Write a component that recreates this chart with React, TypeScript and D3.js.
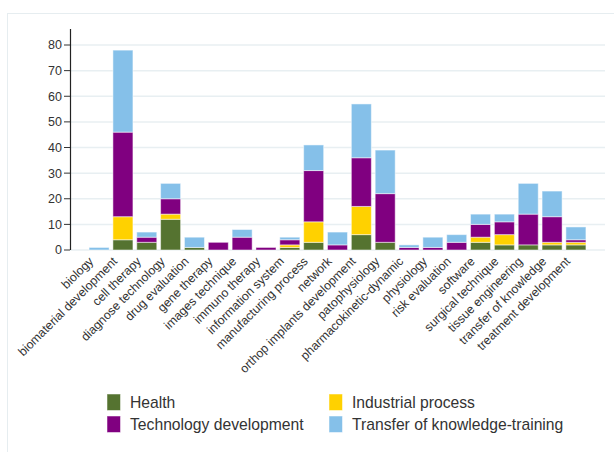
import React from "react";
import * as d3 from "d3";

const categories = [
  "biology", "biomaterial development", "cell therapy", "diagnose technology",
  "drug evaluation", "gene therapy", "images technique", "immuno therapy",
  "information system", "manufacturing process", "network",
  "orthop implants development", "patophysiology", "pharmacokinetic-dynamic",
  "physiology", "risk evaluation", "software", "surgical technique",
  "tissue engineering", "transfer of knowledge", "treatment development",
];
const health = [0, 4, 3, 12, 1, 0, 0, 0, 1, 3, 0, 6, 3, 0, 0, 0, 3, 2, 2, 2, 2];
const industrial = [0, 9, 0, 2, 0, 0, 0, 0, 1, 8, 0, 11, 0, 0, 0, 0, 2, 4, 0, 1, 1];
const technology = [0, 33, 2, 6, 0, 3, 5, 1, 2, 20, 2, 19, 19, 1, 1, 3, 5, 5, 12, 10, 1];
const transfer = [1, 32, 2, 6, 4, 0, 3, 0, 1, 10, 5, 21, 17, 1, 4, 3, 4, 3, 12, 10, 5];
const seriesNames = ["Health", "Industrial process", "Technology development", "Transfer of knowledge-training"];
const seriesColors = ["#557330", "#ffd100", "#800080", "#85c0e9"];
const yTicks = [0, 10, 20, 30, 40, 50, 60, 70, 80];

export default function App() {
  const W = 614, H = 452;
  const rows = categories.map((c, i) => ({
    cat: c, Health: health[i], "Industrial process": industrial[i],
    "Technology development": technology[i], "Transfer of knowledge-training": transfer[i],
  }));
  const stack = d3.stack<any>().keys(seriesNames)(rows);
  const x = d3.scaleBand().domain(categories).range([70, 605]).paddingInner(0.16).paddingOuter(0.8);
  const y = d3.scaleLinear().domain([0, 80]).range([250, 45]);
  const font = "'Liberation Sans', Arial, sans-serif";
  const legendPos = [
    { x: 107, y: 394 }, { x: 329, y: 394 }, { x: 107, y: 416 }, { x: 329, y: 416 },
  ];
  return (
    <svg width={W} height={H} style={{ position: "absolute", left: 0, top: 0, background: "#fff" }} fontFamily={font}>
      <rect x={7.5} y={13.5} width={620} height={460} fill="none" stroke="#e6edf0" strokeWidth={1} />
      {yTicks.map((t) => (
        <g key={t}>
          <line x1={70} x2={605} y1={y(t)} y2={y(t)} stroke="#e8eff2" strokeWidth={1.5} />
          <line x1={64} x2={70} y1={y(t)} y2={y(t)} stroke="#333" strokeWidth={1} />
          <text x={62} y={y(t)} dy="0.35em" textAnchor="end" fontSize={12.5} fill="#333">{t}</text>
        </g>
      ))}
      <line x1={70.5} x2={70.5} y1={29} y2={250} stroke="#222" strokeWidth={1.2} />
      {stack.map((s, si) => (
        <g key={s.key} fill={seriesColors[si]}>
          {s.map((d, i) => d[1] - d[0] > 0 ? (
            <rect key={i} x={x(categories[i])!} width={x.bandwidth()} y={y(d[1])} height={y(d[0]) - y(d[1])}
              stroke="#ffffff" strokeOpacity={0.5} strokeWidth={1} />
          ) : null)}
        </g>
      ))}
      {categories.map((c) => {
        const cx = x(c)! + x.bandwidth() / 2;
        return (
          <text key={c} transform={`translate(${cx - 8},${259}) rotate(-45)`} textAnchor="end" dy="0.35em"
            fontSize={12.3} fill="#333">{c}</text>
        );
      })}
      {seriesNames.map((n, i) => (
        <g key={n}>
          <rect x={legendPos[i].x} y={legendPos[i].y} width={13.5} height={16.5} fill={seriesColors[i]}
            stroke="#ffffff" strokeOpacity={0.5} />
          <text x={legendPos[i].x + 23} y={legendPos[i].y + 8.5} dy="0.35em" fontSize={15.7} fill="#333">{n}</text>
        </g>
      ))}
    </svg>
  );
}
